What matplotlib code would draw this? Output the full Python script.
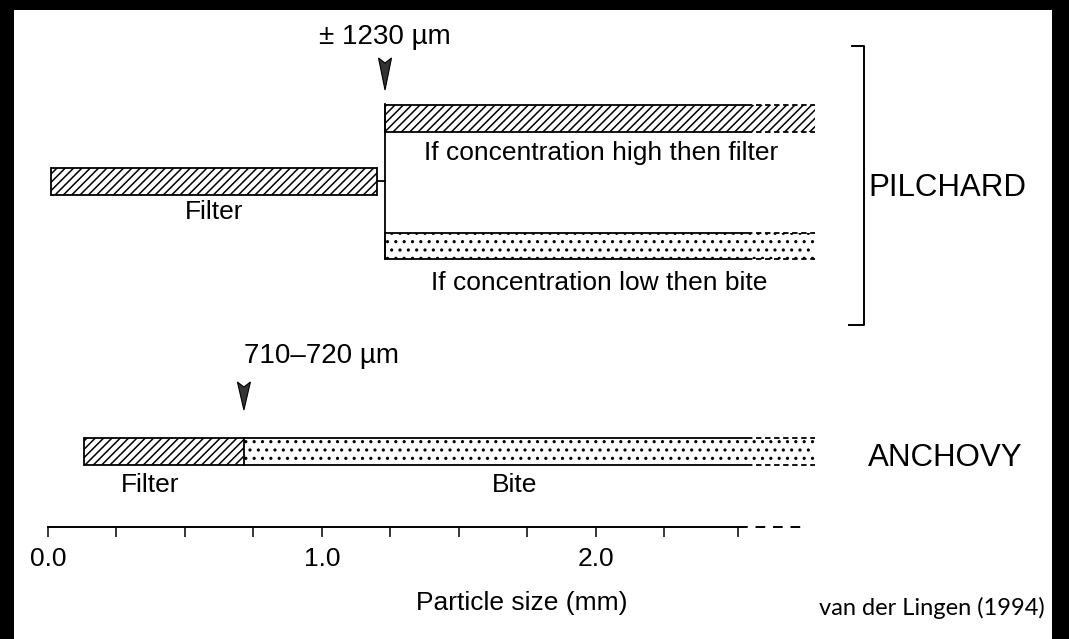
import matplotlib
matplotlib.use("Agg")
import matplotlib.pyplot as plt
import numpy as np

# ---------------- data (particle size in mm) ----------------
pilchard_filter = (0.01, 1.20)
pilchard_switch = 1.23            # ± 1230 µm
pilchard_high = (1.23, 2.80)      # if concentration high then filter
pilchard_low = (1.23, 2.80)       # if concentration low then bite
anchovy_filter = (0.13, 0.715)
anchovy_bite = (0.715, 2.80)
anchovy_switch = 0.715            # 710-720 µm
solid_limit = 2.55                # beyond this, bars are drawn dashed
axis_solid = (0.0, 2.52)
axis_dashed = (2.52, 2.77)
major_ticks = [0.0, 1.0, 2.0]
major_labels = ["0.0", "1.0", "2.0"]
minor_ticks = [0.25, 0.5, 0.75, 1.25, 1.5, 1.75, 2.25, 2.52]

FONT = ["Liberation Sans", "DejaVu Sans"]
plt.rcParams['font.family'] = FONT
plt.rcParams['hatch.linewidth'] = 1.1

W, H = 1069, 639
fig = plt.figure(figsize=(W / 100, H / 100), dpi=100, facecolor="black")

# white panel inside black frame
left_px, right_px, top_px = 14, 1052, 10
ax = fig.add_axes([left_px / W, 0, (right_px - left_px) / W, (H - top_px) / H])
ax.set_facecolor("white")
x0_px, px_per_mm = 48, 274
ax.set_xlim((left_px - x0_px) / px_per_mm, (right_px - x0_px) / px_per_mm)
ax.set_ylim(H, top_px)

for s in ["top", "left", "right"]:
    ax.spines[s].set_visible(False)
ax.spines["bottom"].set_position(("data", 527))
ax.spines["bottom"].set_bounds(*axis_solid)
ax.spines["bottom"].set_linewidth(1.4)
ax.set_yticks([])
ax.set_xticks(major_ticks)
ax.set_xticklabels(major_labels)
ax.set_xticks(minor_ticks, minor=True)
ax.tick_params(axis="x", which="both", direction="out", length=7.5, width=1.1,
               labelsize=19, pad=7)
ax.plot(axis_dashed, [527, 527], color="black", lw=1.4, ls=(0, (5, 4)))

LW = 1.3


def bar(x, yc, h, hatch, solid_end=None, left_edge=True):
    a, b = x
    ax.barh(yc, b - a, left=a, height=h, color="white", edgecolor="black",
            hatch=hatch, linewidth=0)
    se = b if solid_end is None else solid_end
    for yy in (yc - h / 2, yc + h / 2):
        ax.plot([a, se], [yy, yy], color="black", lw=LW, solid_capstyle="butt")
        if se < b:
            ax.plot([se, b], [yy, yy], color="black", lw=LW, ls=(0, (3, 2)))
    if left_edge:
        ax.plot([a, a], [yc - h / 2, yc + h / 2], color="black", lw=LW)
    if solid_end is None:
        ax.plot([b, b], [yc - h / 2, yc + h / 2], color="black", lw=LW)


# ---------------- Pilchard ----------------
bar(pilchard_filter, 181, 27, "////")
bar(pilchard_high, 118, 27, "////", solid_end=solid_limit)
bar(pilchard_low, 246, 26, "..", solid_end=solid_limit)
# connector
ax.plot([pilchard_filter[1], pilchard_switch], [181, 181], color="black", lw=LW)
ax.plot([pilchard_switch, pilchard_switch], [104, 259], color="black", lw=LW)


def arrowhead(x, ytop, ybot):
    hw = 6.5 / px_per_mm
    xs = [x - hw, x, x + hw, x]
    ys = [ytop, ytop + 5, ytop, ybot]
    ax.fill(xs, ys, color="#333333", lw=0.8, edgecolor="black")


arrowhead(pilchard_switch, 58, 90)
ax.text(pilchard_switch, 37, "± 1230 µm", ha="center", va="center", fontsize=20)

ax.text((pilchard_filter[0] + pilchard_filter[1]) / 2, 212, "Filter",
        ha="center", va="center", fontsize=19)
ax.text(2.02, 153, "If concentration high then filter", ha="center",
        va="center", fontsize=19)
ax.text(2.01, 283, "If concentration low then bite", ha="center",
        va="center", fontsize=19)

# bracket
bx = (864 - x0_px) / px_per_mm
ax.plot([bx - 12 / px_per_mm, bx, bx, bx - 15 / px_per_mm], [46, 46, 325, 325],
        color="black", lw=1.4)
ax.text((868 - x0_px) / px_per_mm, 188, "PILCHARD", ha="left", va="center",
        fontsize=22.5)

# ---------------- Anchovy ----------------
bar(anchovy_filter, 451, 27, "////", solid_end=anchovy_filter[1])
bar(anchovy_bite, 451, 27, "..", solid_end=solid_limit, left_edge=True)
arrowhead(anchovy_switch, 382, 410)
ax.text((244 - x0_px) / px_per_mm, 356, "710\u2013720 µm", ha="left",
        va="center", fontsize=20)
ax.text((150 - x0_px) / px_per_mm, 485, "Filter", ha="center", va="center",
        fontsize=19)
ax.text((515 - x0_px) / px_per_mm, 485, "Bite", ha="center", va="center",
        fontsize=19)
ax.text((868 - x0_px) / px_per_mm, 458, "ANCHOVY", ha="left", va="center",
        fontsize=22.5)

# ---------------- axis title and source ----------------
ax.text((522 - x0_px) / px_per_mm, 603, "Particle size (mm)", ha="center",
        va="center", fontsize=19)
ax.text((1045 - x0_px) / px_per_mm, 608, "van der Lingen (1994)", ha="right",
        va="center", fontsize=17, family=["Lato", "DejaVu Sans"])

fig.savefig("out.png", dpi=100, facecolor="black")
